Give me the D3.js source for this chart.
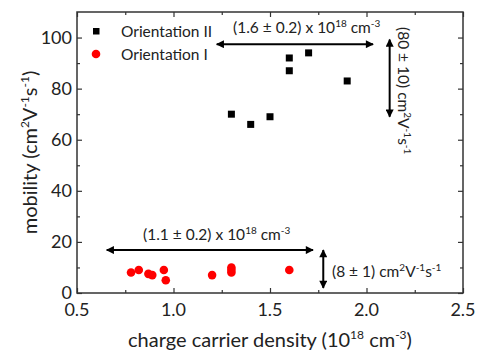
<!DOCTYPE html>
<html>
<head>
<meta charset="utf-8">
<script src="https://cdn.jsdelivr.net/npm/d3@7"></script>
<style>
  body { margin: 0; background: #fff; }
  text { font-family: Lato, "Open Sans", sans-serif; fill: #222; }
</style>
</head>
<body>
<script>
const width = 481;
const height = 354;

// Orientation II (black squares)
const densII = [1.3, 1.4, 1.5, 1.6, 1.6, 1.7, 1.9];
const mobII = [70, 66, 69, 92, 87, 94, 83];

// Orientation I (red circles)
const densI = [0.78, 0.82, 0.87, 0.89, 0.95, 0.96, 1.2, 1.3, 1.3, 1.3, 1.6];
const mobI = [8, 9, 7.5, 7, 9, 5, 7, 10, 9, 8, 9];

const xTicks = [0.5, 1.0, 1.5, 2.0, 2.5];
const yTicks = [0, 20, 40, 60, 80, 100];

const margin = {top: 12, right: 18, bottom: 61, left: 77};

let scaleX = d3.scaleLinear().domain([0.5, 2.5]).range([margin.left, width - margin.right]);
let scaleY = d3.scaleLinear().domain([0, 110]).range([height - margin.bottom, margin.top]);

let svg = d3.select("body").append("svg")
    .attr("width", width)
    .attr("height", height);

svg.append("defs").append("marker")
    .attr("id", "head")
    .attr("viewBox", "0 0 10 10")
    .attr("refX", 9).attr("refY", 5)
    .attr("markerWidth", 5).attr("markerHeight", 4)
    .attr("markerUnits", "strokeWidth")
    .attr("orient", "auto-start-reverse")
    .append("path").attr("d", "M0,0L10,5L0,10z").attr("fill", "#000");

const axisColor = "#333";
const x0 = scaleX.range()[0], x1 = scaleX.range()[1];
const y0 = scaleY.range()[0], y1 = scaleY.range()[1];

function styleAxis(g){
    g.selectAll("path").remove();
    g.selectAll("line").attr("stroke", axisColor).attr("stroke-width", 1.2);
    g.selectAll("text").remove();
}

// major + minor ticks on all four sides, pointing inward
const xMinor = d3.range(0.75, 2.5, 0.5);
const yMinor = d3.range(10, 110, 20);
function addTicks(axisFn, scale, major, minor, transform){
    svg.append("g").attr("transform", transform)
        .call(axisFn(scale).tickValues(major).tickSizeInner(-5).tickSizeOuter(0)).call(styleAxis);
    svg.append("g").attr("transform", transform)
        .call(axisFn(scale).tickValues(minor).tickSizeInner(-3).tickSizeOuter(0)).call(styleAxis);
}
addTicks(d3.axisBottom, scaleX, xTicks, xMinor, "translate(0," + y0 + ")");
addTicks(d3.axisTop, scaleX, xTicks, xMinor, "translate(0," + y1 + ")");
addTicks(d3.axisLeft, scaleY, yTicks, yMinor, "translate(" + x0 + ",0)");
addTicks(d3.axisRight, scaleY, yTicks, yMinor, "translate(" + x1 + ",0)");

svg.append("rect")
    .attr("x", x0).attr("y", y1)
    .attr("width", x1 - x0).attr("height", y0 - y1)
    .attr("fill", "none").attr("stroke", axisColor).attr("stroke-width", 1.5);

// tick labels
svg.selectAll(".xl").data(xTicks).enter().append("text")
    .attr("x", d => scaleX(d)).attr("y", y0 + 23)
    .attr("text-anchor", "middle").attr("font-size", 18)
    .text(d => d.toFixed(1));
svg.selectAll(".yl").data(yTicks).enter().append("text")
    .attr("x", x0 - 5).attr("y", d => scaleY(d) + 6)
    .attr("text-anchor", "end").attr("font-size", 18)
    .text(d => d);

// superscript helper: parts alternate normal / superscript
function richText(t, parts, big, small, lift){
    parts.forEach(function(p, i){
        let sup = i % 2 === 1;
        let s = t.append("tspan").text(p);
        if (sup) s.attr("dy", -lift).attr("font-size", small);
        else if (i > 0) s.attr("dy", lift).attr("font-size", big);
    });
}

// axis titles
let xt = svg.append("text")
    .attr("x", (x0 + x1) / 2).attr("y", 347)
    .attr("text-anchor", "middle").attr("font-size", 20);
richText(xt, ["charge carrier density (10", "18", " cm", "-3", ")"], 20, 12, 8);

let yt = svg.append("text")
    .attr("transform", "translate(37," + ((y0 + y1) / 2) + ") rotate(-90)")
    .attr("text-anchor", "middle").attr("font-size", 20);
richText(yt, ["mobility (cm", "2", "V", "-1", "s", "-1", ")"], 20, 12, 8);

// data
let dataII = densII.map((d, i) => ({x: d, y: mobII[i]}));
let dataI = densI.map((d, i) => ({x: d, y: mobI[i]}));

svg.selectAll(".sq").data(dataII).enter().append("rect")
    .attr("x", d => scaleX(d.x) - 3.5).attr("y", d => scaleY(d.y) - 3.5)
    .attr("width", 7).attr("height", 7).attr("fill", "#000");
svg.selectAll(".ci").data(dataI).enter().append("circle")
    .attr("cx", d => scaleX(d.x)).attr("cy", d => scaleY(d.y))
    .attr("r", 4.3).attr("fill", "#f00");

// legend
svg.append("rect").attr("x", 93).attr("y", 28).attr("width", 6.5).attr("height", 6.5).attr("fill", "#000");
svg.append("circle").attr("cx", 96).attr("cy", 54).attr("r", 4.3).attr("fill", "#f00");
svg.append("text").attr("x", 121).attr("y", 37).attr("font-size", 15.5).text("Orientation II");
svg.append("text").attr("x", 121).attr("y", 60).attr("font-size", 15.5).text("Orientation I");

// annotations
function arrow(xa, ya, xb, yb){
    svg.append("line")
        .attr("x1", scaleX(xa)).attr("y1", scaleY(ya))
        .attr("x2", scaleX(xb)).attr("y2", scaleY(yb))
        .attr("stroke", "#000").attr("stroke-width", 2)
        .attr("marker-start", "url(#head)").attr("marker-end", "url(#head)");
}
arrow(1.224, 97.4, 2.034, 97.4);
arrow(2.12, 99.2, 2.12, 69);
arrow(0.654, 16.8, 1.723, 16.8);
arrow(1.776, 16.8, 1.776, 2);

function densLabel(x, y, val){
    let t = svg.append("text").attr("x", x).attr("y", y).attr("font-size", 15.5);
    richText(t, [val + " x 10", "18", " cm", "-3"], 15.5, 10, 6);
}
densLabel(233, 33, "(1.6 \u00b1 0.2)");
densLabel(143, 240, "(1.1 \u00b1 0.2)");

function mobLabel(t, val){
    richText(t, [val + " cm", "2", "V", "-1", "s", "-1"], 15.5, 10, 6);
}
mobLabel(svg.append("text").attr("x", 332).attr("y", 277).attr("font-size", 15.5), "(8 \u00b1 1)");
mobLabel(svg.append("text").attr("transform", "translate(398,27) rotate(90)").attr("font-size", 15.5), "(80 \u00b1 10)");
</script>
</body>
</html>
